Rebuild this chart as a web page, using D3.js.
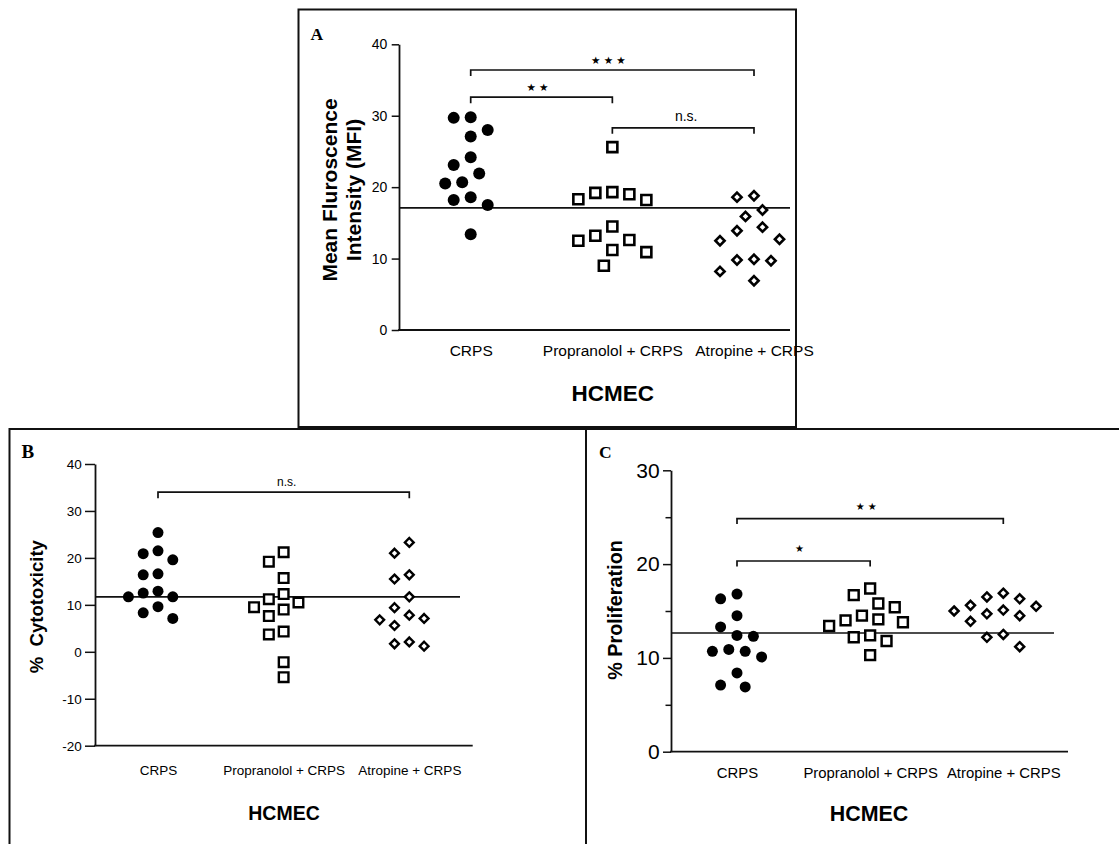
<!DOCTYPE html>
<html>
<head>
<meta charset="utf-8">
<script src="https://cdn.jsdelivr.net/npm/d3@7"></script>
<style>
  html, body { margin: 0; padding: 0; background: #fff; }
  svg text { font-family: "Liberation Sans", Arial, sans-serif; fill: #000; }
</style>
</head>
<body>
<svg id="fig" width="1119" height="844"></svg>
<script>
// ---------------- data ----------------
const categories = ["CRPS", "Propranolol + CRPS", "Atropine + CRPS"];
const groupTitle = "HCMEC";

// A: mean fluorescence intensity
const mfiCRPS        = [29.8, 29.7, 28.0, 27.1, 24.2, 23.1, 21.9, 20.7, 20.5, 18.6, 18.2, 17.5, 13.4];
const mfiPropranolol = [25.6, 19.3, 19.2, 19.0, 18.3, 18.2, 14.5, 13.2, 12.6, 12.5, 11.2, 10.9, 9.0];
const mfiAtropine    = [18.8, 18.6, 16.8, 15.9, 14.4, 13.9, 12.7, 12.5, 9.9, 9.8, 9.7, 8.2, 6.9];
const mfiReference   = 17.1;
const mfiTicks       = [0, 10, 20, 30, 40];

// B: cytotoxicity (%)
const cytoCRPS        = [25.4, 21.5, 20.9, 19.6, 16.6, 16.4, 12.9, 12.5, 11.7, 11.7, 9.6, 8.3, 7.1];
const cytoPropranolol = [21.2, 19.2, 15.7, 12.3, 11.2, 10.5, 9.5, 9.0, 7.6, 4.3, 3.7, -2.2, -5.4];
const cytoAtropine    = [23.3, 21.0, 16.4, 15.5, 11.7, 9.4, 7.8, 7.1, 6.8, 5.6, 2.1, 1.7, 1.2];
const cytoReference   = 11.7;
const cytoTicks       = [-20, -10, 0, 10, 20, 30, 40];

// C: proliferation (%)
const prolifCRPS        = [16.8, 16.3, 14.5, 13.3, 12.4, 12.3, 10.9, 10.7, 10.7, 10.1, 8.4, 7.1, 6.9];
const prolifPropranolol = [17.4, 16.7, 15.8, 15.4, 14.5, 14.1, 14.0, 13.8, 13.4, 12.4, 12.2, 11.8, 10.3];
const prolifAtropine    = [16.9, 16.5, 16.3, 15.6, 15.5, 15.1, 15.0, 14.7, 14.5, 13.9, 12.5, 12.2, 11.2];
const prolifReference   = 12.65;
const prolifTicks       = [0, 10, 20, 30];
const prolifMinorTicks  = [5, 15, 25];

// significance brackets: [from group, to group, height (data units), label]
const mfiBrackets    = [[0, 2, 36.4, "★★★"], [0, 1, 32.6, "★★"], [1, 2, 28.3, "n.s."]];
const cytoBrackets   = [[0, 2, 34.0, "n.s."]];
const prolifBrackets = [[0, 2, 24.85, "★★"], [0, 1, 20.33, "★"]];

// ---------------- layout ----------------
const panels = [
  {
    letter: "A", letterPos: [310.5, 40], letterSize: 17.5,
    series: [mfiCRPS, mfiPropranolol, mfiAtropine],
    reference: mfiReference, ticks: mfiTicks, minorTicks: [],
    brackets: mfiBrackets,
    domain: [0, 40], yRange: [330, 44.3],
    axisX: 399, xCenters: [470.7, 754], xAxisEnd: 790, refEnd: 790,
    tickSize: 7.3, tickPad: 4.4, tickFont: 14,
    catFont: 15.5, catBaseline: 356,
    groupFont: 22.5, groupBaseline: 401, groupX: 612.8,
    yTitle: ["Mean Fluroscence", "Intensity (MFI)"], yTitleFont: 21,
    yTitleBaselines: [336.7, 361], yTitleCenter: 190,
    step: 8.5, minDist: 16.5, circleR: 6, squareSide: 10, diamondH: 4.6, markStroke: 2.6,
    bracketTick: 6, starSize: 10.5, starGap: 12.6, starLift: 10.5, nsFont: 14, nsLift: 6.5,
    frame: [298.5, 9.5, 796, 427]
  },
  {
    letter: "B", letterPos: [21.5, 458.3], letterSize: 19,
    series: [cytoCRPS, cytoPropranolol, cytoAtropine],
    reference: cytoReference, ticks: cytoTicks, minorTicks: [],
    brackets: cytoBrackets,
    domain: [-20, 40], yRange: [745.7, 464],
    axisX: 95, xCenters: [158, 409.3], xAxisEnd: 472.7, refEnd: 460,
    tickSize: 10, tickPad: 3.3, tickFont: 13.5,
    catFont: 13.5, catBaseline: 775,
    groupFont: 19.5, groupBaseline: 820, groupX: 284,
    yTitle: ["%  Cytotoxicity"], yTitleFont: 18.6,
    yTitleBaselines: [42.7], yTitleCenter: 606.7,
    step: 7.4, minDist: 14.5, circleR: 5.5, squareSide: 9.6, diamondH: 4.4, markStroke: 2.4,
    bracketTick: 6, starSize: 10, starGap: 12, starLift: 10, nsFont: 12, nsLift: 6.3,
    frame: [9.5, 429, 586, 860]
  },
  {
    letter: "C", letterPos: [599, 458.3], letterSize: 17.5,
    series: [prolifCRPS, prolifPropranolol, prolifAtropine],
    reference: prolifReference, ticks: prolifTicks, minorTicks: prolifMinorTicks,
    brackets: prolifBrackets,
    domain: [0, 30], yRange: [751.7, 470.3],
    axisX: 671, xCenters: [737, 1003.3], xAxisEnd: 1068, refEnd: 1054,
    tickSize: 8, tickPad: 3.3, tickFont: 21,
    catFont: 14.9, catBaseline: 777.7,
    groupFont: 21.4, groupBaseline: 821, groupX: 869,
    yTitle: ["% Proliferation"], yTitleFont: 19.8,
    yTitleBaselines: [622], yTitleCenter: 610,
    step: 8.2, minDist: 15.5, circleR: 5.5, squareSide: 9.8, diamondH: 4.5, markStroke: 2.5,
    bracketTick: 5.5, starSize: 10, starGap: 12, starLift: 12.5, nsFont: 12, nsLift: 6,
    frame: [586, 429, 1130, 860]
  }
];

const svg = d3.select("#fig");

// column-scatter placement: each point takes the lane nearest the column
// centre that keeps it clear of the points already placed
function swarmOffsets(values, y, step, minDist) {
  const order = d3.range(values.length).sort((a, b) => values[b] - values[a]);
  const placed = [];
  const offsets = new Array(values.length).fill(0);
  for (const i of order) {
    const py = y(values[i]);
    for (let k = 0; k < 40; k++) {
      const lane = k === 0 ? 0 : (k % 2 ? -Math.ceil(k / 2) : Math.ceil(k / 2));
      const px = lane * step;
      if (placed.every(p => Math.hypot(p[0] - px, p[1] - py) >= minDist)) {
        placed.push([px, py]);
        offsets[i] = px;
        break;
      }
    }
  }
  return offsets;
}

function drawPanel(p) {
  const g = svg.append("g");

  // frame
  const [fx0, fy0, fx1, fy1] = p.frame;
  g.append("rect")
    .attr("x", fx0).attr("y", fy0)
    .attr("width", fx1 - fx0).attr("height", fy1 - fy0)
    .attr("fill", "none").attr("stroke", "#111").attr("stroke-width", 2);

  // panel letter
  g.append("text")
    .attr("x", p.letterPos[0]).attr("y", p.letterPos[1])
    .style("font-family", "'Liberation Serif', 'Times New Roman', serif")
    .style("font-weight", "bold")
    .style("font-size", p.letterSize + "px")
    .text(p.letter);

  const y = d3.scaleLinear().domain(p.domain).range(p.yRange);
  const x = d3.scalePoint().domain(categories).range(p.xCenters);

  // minor ticks
  if (p.minorTicks.length) {
    g.append("g")
      .attr("transform", `translate(${p.axisX},0)`)
      .call(d3.axisLeft(y).tickValues(p.minorTicks).tickSize(5.5).tickFormat(""))
      .call(a => a.select(".domain").remove())
      .call(a => a.selectAll("line").attr("stroke", "#111").attr("stroke-width", 1.5));
  }

  // y axis (plain hyphen for negative labels)
  g.append("g")
    .attr("transform", `translate(${p.axisX},0)`)
    .call(d3.axisLeft(y).tickValues(p.ticks).tickSize(p.tickSize).tickSizeOuter(0)
      .tickPadding(p.tickPad).tickFormat(d => String(d)))
    .call(a => a.select(".domain").attr("stroke", "#111").attr("stroke-width", 1.8))
    .call(a => a.selectAll(".tick line").attr("stroke", "#111").attr("stroke-width", 1.5))
    .call(a => a.selectAll(".tick text")
      .style("font-family", "'Liberation Sans', Arial, sans-serif")
      .style("font-size", p.tickFont + "px")
      .attr("fill", "#000"));

  // x axis baseline
  g.append("line")
    .attr("x1", p.axisX - 0.9).attr("x2", p.xAxisEnd)
    .attr("y1", y(p.domain[0])).attr("y2", y(p.domain[0]))
    .attr("stroke", "#111").attr("stroke-width", 1.8);

  // category labels
  g.append("g")
    .attr("transform", `translate(0,${p.catBaseline})`)
    .call(d3.axisBottom(x).tickSize(0).tickPadding(0))
    .call(a => a.select(".domain").remove())
    .call(a => a.selectAll(".tick text")
      .attr("y", 0).attr("dy", 0)
      .style("font-family", "'Liberation Sans', Arial, sans-serif")
      .style("font-size", p.catFont + "px")
      .attr("fill", "#000"));

  // group title
  g.append("text")
    .attr("x", p.groupX).attr("y", p.groupBaseline)
    .attr("text-anchor", "middle")
    .style("font-weight", "bold")
    .style("font-size", p.groupFont + "px")
    .text(groupTitle);

  // y title
  p.yTitle.forEach((line, i) => {
    g.append("text")
      .attr("transform", `translate(${p.yTitleBaselines[i]},${p.yTitleCenter}) rotate(-90)`)
      .attr("text-anchor", "middle")
      .style("font-weight", "bold")
      .style("font-size", p.yTitleFont + "px")
      .style("white-space", "pre")
      .attr("xml:space", "preserve")
      .text(line);
  });

  // reference line
  g.append("line")
    .attr("x1", p.axisX).attr("x2", p.refEnd)
    .attr("y1", y(p.reference)).attr("y2", y(p.reference))
    .attr("stroke", "#111").attr("stroke-width", 1.6);

  // points
  const shapes = ["circle", "square", "diamond"];
  p.series.forEach((vals, gi) => {
    const offs = swarmOffsets(vals, y, p.step, p.minDist);
    const cx = x(categories[gi]);
    const pts = g.append("g").selectAll("path")
      .data(vals.map((v, i) => ({ v, dx: offs[i] })))
      .join("path")
      .attr("transform", d => `translate(${cx + d.dx},${y(d.v)})`);
    const shape = shapes[gi];
    if (shape === "circle") {
      const r = p.circleR;
      pts.attr("d", `M${-r},0A${r},${r} 0 1,0 ${r},0A${r},${r} 0 1,0 ${-r},0Z`)
        .attr("fill", "#000");
    } else if (shape === "square") {
      const s = p.squareSide / 2;
      pts.attr("d", `M${-s},${-s}H${s}V${s}H${-s}Z`)
        .attr("fill", "#fff").attr("stroke", "#000").attr("stroke-width", p.markStroke);
    } else {
      const h = p.diamondH;
      pts.attr("d", `M0,${-h}L${h},0L0,${h}L${-h},0Z`)
        .attr("fill", "#fff").attr("stroke", "#000").attr("stroke-width", p.markStroke)
        .attr("stroke-linejoin", "miter");
    }
  });

  // significance brackets
  p.brackets.forEach(([a, b, level, label]) => {
    const x0 = x(categories[a]), x1 = x(categories[b]), yy = y(level);
    g.append("path")
      .attr("d", `M${x0},${yy + p.bracketTick}V${yy}H${x1}V${yy + p.bracketTick}`)
      .attr("fill", "none").attr("stroke", "#111").attr("stroke-width", 1.7);
    const mid = (x0 + x1) / 2;
    if (label === "n.s.") {
      g.append("text")
        .attr("x", mid + 3).attr("y", yy - p.nsLift)
        .attr("text-anchor", "middle")
        .style("font-size", p.nsFont + "px")
        .text(label);
    } else {
      const stars = Array.from(label);
      stars.forEach((s, i) => {
        g.append("text")
          .attr("x", mid - 4 + (i - (stars.length - 1) / 2) * p.starGap)
          .attr("y", yy - p.starLift)
          .attr("text-anchor", "middle")
          .attr("dominant-baseline", "central")
          .style("font-family", "'DejaVu Sans', sans-serif")
          .style("font-size", p.starSize + "px")
          .text(s);
      });
    }
  });
}

panels.forEach(drawPanel);
</script>
</body>
</html>
